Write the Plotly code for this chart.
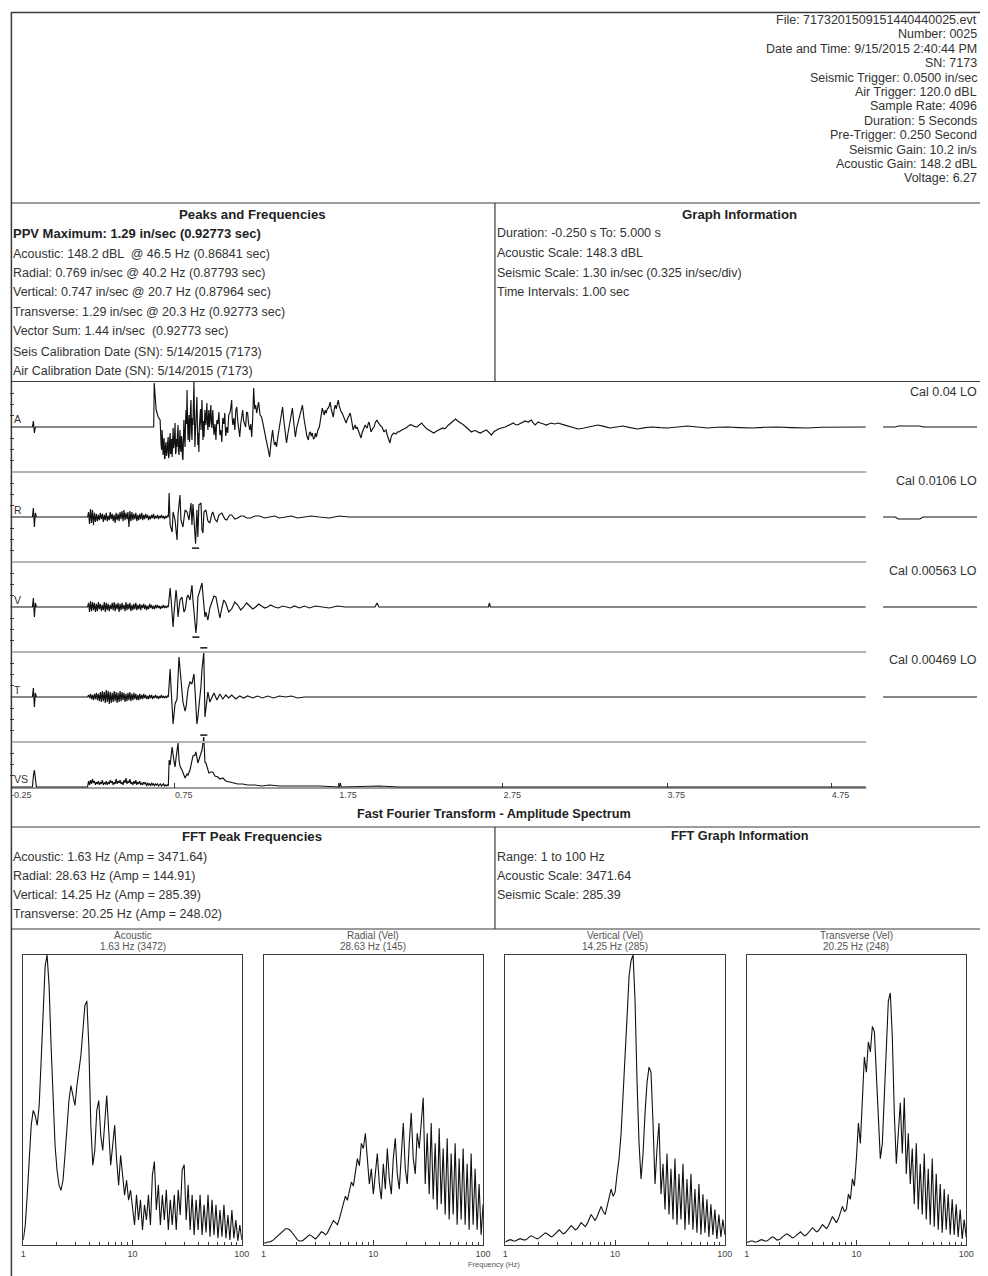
import plotly.graph_objects as go

W, H = 988, 1276
FONT = "Liberation Sans, Arial, sans-serif"
INK = "#222222"
LINE = "#3a3a3a"


def PX(x):
    return x / W


def PY(y):
    return 1 - y / H


# ---------------- text content ----------------
HEADER_LINES = [
    "File: 7173201509151440440025.evt",
    "Number: 0025",
    "Date and Time: 9/15/2015 2:40:44 PM",
    "SN: 7173",
    "Seismic Trigger: 0.0500 in/sec",
    "Air Trigger: 120.0 dBL",
    "Sample Rate: 4096",
    "Duration: 5 Seconds",
    "Pre-Trigger: 0.250 Second",
    "Seismic Gain: 10.2 in/s",
    "Acoustic Gain: 148.2 dBL",
    "Voltage: 6.27",
]
PEAKS_TITLE = "Peaks and Frequencies"
PPV_LINE = "PPV Maximum: 1.29 in/sec (0.92773 sec)"
PEAKS_LINES = [
    "Acoustic: 148.2 dBL  @ 46.5 Hz (0.86841 sec)",
    "Radial: 0.769 in/sec @ 40.2 Hz (0.87793 sec)",
    "Vertical: 0.747 in/sec @ 20.7 Hz (0.87964 sec)",
    "Transverse: 1.29 in/sec @ 20.3 Hz (0.92773 sec)",
    "Vector Sum: 1.44 in/sec  (0.92773 sec)",
    "Seis Calibration Date (SN): 5/14/2015 (7173)",
    "Air Calibration Date (SN): 5/14/2015 (7173)",
]
GRAPH_TITLE = "Graph Information"
GRAPH_LINES = [
    "Duration: -0.250 s To: 5.000 s",
    "Acoustic Scale: 148.3 dBL",
    "Seismic Scale: 1.30 in/sec (0.325 in/sec/div)",
    "Time Intervals: 1.00 sec",
]
CHANNEL_LABELS = ["A", "R", "V", "T", "VS"]
CAL_LABELS = ["Cal 0.04 LO", "Cal 0.0106 LO", "Cal 0.00563 LO", "Cal 0.00469 LO"]
TIME_TICKS = [-0.25, 0.75, 1.75, 2.75, 3.75, 4.75]
TIME_TICK_TEXT = ["-0.25", "0.75", "1.75", "2.75", "3.75", "4.75"]
FFT_SECTION_TITLE = "Fast Fourier Transform - Amplitude Spectrum"
FFT_PEAK_TITLE = "FFT Peak Frequencies"
FFT_PEAK_LINES = [
    "Acoustic: 1.63 Hz (Amp = 3471.64)",
    "Radial: 28.63 Hz (Amp = 144.91)",
    "Vertical: 14.25 Hz (Amp = 285.39)",
    "Transverse: 20.25 Hz (Amp = 248.02)",
]
FFT_INFO_TITLE = "FFT Graph Information"
FFT_INFO_LINES = ["Range: 1 to 100 Hz", "Acoustic Scale: 3471.64", "Seismic Scale: 285.39"]
FFT_PANEL_TITLES = ["Acoustic", "Radial (Vel)", "Vertical (Vel)", "Transverse (Vel)"]
FFT_PANEL_SUBS = ["1.63 Hz (3472)", "28.63 Hz (145)", "14.25 Hz (285)", "20.25 Hz (248)"]

# ---------------- scales ----------------
ACOUSTIC_SCALE_PSI = 0.0748     # 148.3 dBL
SEISMIC_SCALE = 1.30            # in/sec
FFT_ACOUSTIC_SCALE = 3471.64
FFT_SEISMIC_SCALE = 285.39
RECORD_END = 4.96

# ---------------- waveform data ----------------
# acoustic (time s, psi)
A_TRACE = [(-0.25, 0), (-0.116, 0), (-0.110, 0.010), (-0.104, -0.010), (-0.098, 0), (-0.089, 0),
    (0.623, 0), (0.626, 0.0730), (0.638, 0.0282), (0.650, 0.0166), (0.662, 0.0116), (0.668, -0.0299),
    (0.671, -0.0380), (0.674, -0.0050), (0.677, -0.0400), (0.680, -0.0465), (0.683, -0.0250),
    (0.686, -0.0183), (0.689, -0.0530), (0.692, -0.0515), (0.695, -0.0300), (0.698, -0.0249),
    (0.701, -0.0480), (0.705, -0.0415), (0.708, -0.0250), (0.711, -0.0166), (0.714, -0.0520),
    (0.717, -0.0465), (0.720, -0.0200), (0.723, -0.0100), (0.726, -0.0450), (0.729, -0.0382),
    (0.732, -0.0200), (0.735, -0.0498), (0.738, -0.0300), (0.741, -0.0017), (0.744, -0.0350),
    (0.747, -0.0299), (0.750, -0.0150), (0.753, 0.0066), (0.756, -0.0450), (0.759, -0.0415),
    (0.762, -0.0200), (0.765, -0.0332), (0.768, -0.0100), (0.771, 0.0033), (0.774, -0.0400),
    (0.777, -0.0465), (0.780, -0.0250), (0.783, -0.0050), (0.786, -0.0350), (0.789, -0.0415),
    (0.792, -0.0150), (0.795, -0.0216), (0.798, -0.0500), (0.801, -0.0548), (0.804, -0.0200),
    (0.807, 0.0116), (0.810, -0.0150), (0.814, -0.0332), (0.817, 0.0100), (0.820, 0.0282),
    (0.823, 0.0050), (0.826, 0.0614), (0.829, 0.0100), (0.832, -0.0216), (0.835, 0.0050),
    (0.838, 0.0199), (0.841, -0.0250), (0.844, -0.0100), (0.847, 0.0300), (0.850, 0.0448),
    (0.853, -0.0050), (0.856, -0.0216), (0.859, 0.0150), (0.862, 0.0033), (0.868, 0.0747),
    (0.871, 0.0100), (0.874, -0.0332), (0.877, -0.0100), (0.880, 0.0116), (0.883, 0.0300),
    (0.886, 0.0498), (0.889, 0.0050), (0.892, -0.0299), (0.895, -0.0100), (0.898, -0.0415),
    (0.901, 0.0000), (0.905, 0.0199), (0.908, 0.0300), (0.911, -0.0050), (0.914, 0.0200),
    (0.917, 0.0448), (0.920, 0.0050), (0.923, -0.0216), (0.926, 0.0100), (0.929, -0.0166),
    (0.932, 0.0050), (0.935, 0.0282), (0.938, 0.0100), (0.941, 0.0033), (0.944, 0.0250),
    (0.947, 0.0398), (0.950, 0.0100), (0.953, -0.0050), (0.956, 0.0150), (0.959, 0.0282),
    (0.962, 0.0000), (0.965, 0.0066), (0.968, 0.0250), (0.971, 0.0365), (0.974, 0.0100),
    (0.977, -0.0017), (0.980, 0.0150), (0.983, 0.0282), (0.986, 0.0050), (0.990, -0.0133),
    (0.996, 0.0050), (1.002, -0.0216), (1.005, 0.0000), (1.008, 0.0116), (1.014, 0.0050),
    (1.020, 0.0249), (1.023, 0.0050), (1.026, -0.0133), (1.032, -0.0050), (1.038, -0.0249),
    (1.041, 0.0000), (1.044, 0.0149), (1.050, 0.0050), (1.056, 0.0232), (1.059, 0.0000),
    (1.062, -0.0149), (1.068, 0.0000), (1.074, -0.0100), (1.077, 0.0050), (1.080, 0.0199),
    (1.089, 0.0250), (1.098, 0.0448), (1.101, 0.0150), (1.105, 0.0033), (1.111, 0.0150),
    (1.117, -0.0050), (1.123, 0.0282), (1.129, 0.0332), (1.135, 0.0100), (1.141, -0.0050),
    (1.147, -0.0166), (1.153, 0.0050), (1.159, 0.0199), (1.165, 0.0282), (1.171, 0.0100),
    (1.177, 0.0033), (1.183, 0.0), (1.189, 0.0249), (1.195, 0.0232), (1.201, 0.0050),
    (1.208, -0.0050), (1.214, 0.0050), (1.220, -0.0166), (1.226, 0.0150), (1.232, 0.0647),
    (1.238, 0.0300), (1.244, 0.0365), (1.250, 0.0232), (1.256, 0.0350), (1.262, 0.0415),
    (1.271, 0.0200), (1.280, 0.0166), (1.289, 0.0050), (1.298, -0.0100), (1.307, -0.0200),
    (1.317, -0.0332), (1.323, -0.0400), (1.329, -0.0498), (1.338, -0.0250), (1.347, -0.0050),
    (1.353, -0.0200), (1.359, -0.0299), (1.365, -0.0250), (1.371, -0.0332), (1.380, -0.0150),
    (1.389, 0.0), (1.398, 0.0200), (1.408, 0.0332), (1.414, 0.0150), (1.420, 0.0033),
    (1.426, -0.0100), (1.432, -0.0266), (1.441, -0.0100), (1.450, 0.0033), (1.459, 0.0200),
    (1.468, 0.0315), (1.477, 0.0050), (1.486, -0.0166), (1.495, 0.0000), (1.505, 0.0116),
    (1.517, 0.0250), (1.529, 0.0365), (1.538, 0.0150), (1.547, -0.0050), (1.556, -0.0150),
    (1.565, -0.0216), (1.571, -0.0100), (1.577, -0.0083), (1.583, -0.0150), (1.589, -0.0100),
    (1.596, -0.0200), (1.602, -0.0183), (1.608, -0.0100), (1.614, -0.0166), (1.623, -0.0050),
    (1.632, 0.0), (1.641, 0.0200), (1.650, 0.0315), (1.656, 0.0250), (1.662, 0.0199),
    (1.668, 0.0280), (1.674, 0.0232), (1.680, 0.0300), (1.686, 0.0315), (1.692, 0.0350),
    (1.698, 0.0415), (1.704, 0.0300), (1.710, 0.0250), (1.717, 0.0166), (1.723, 0.0300),
    (1.729, 0.0365), (1.735, 0.0300), (1.741, 0.0400), (1.747, 0.0448), (1.753, 0.0350),
    (1.759, 0.0282), (1.765, 0.0250), (1.771, 0.0232), (1.783, 0.0150), (1.795, 0.0066),
    (1.801, 0.0120), (1.807, 0.0149), (1.814, 0.0180), (1.820, 0.0232), (1.829, 0.0100),
    (1.838, -0.0050), (1.844, 0.0000), (1.850, 0.0033), (1.856, -0.0030), (1.862, 0.0),
    (1.868, -0.0050), (1.874, -0.0100), (1.880, -0.0150), (1.886, -0.0183), (1.892, -0.0100),
    (1.898, -0.0050), (1.904, 0.0000), (1.911, 0.0033), (1.917, 0.0000), (1.923, -0.0017),
    (1.929, 0.0050), (1.935, 0.0083), (1.941, 0.0000), (1.947, -0.0083), (1.956, -0.0030),
    (1.965, 0.0), (1.974, 0.0080), (1.983, 0.0116), (1.989, 0.0080), (1.995, 0.0050),
    (2.005, 0.0020), (2.014, 0.0), (2.020, -0.0050), (2.026, -0.0083), (2.032, -0.0060),
    (2.038, -0.0050), (2.044, -0.0120), (2.050, -0.0183), (2.056, -0.0220), (2.062, -0.0266),
    (2.068, -0.0180), (2.074, -0.0133), (2.086, -0.0100), (2.099, -0.0116), (2.108, -0.0080),
    (2.117, -0.0083), (2.129, -0.0060), (2.141, -0.0050), (2.150, -0.0030), (2.159, -0.0017),
    (2.168, 0.0000), (2.177, 0.0017), (2.186, 0.0040), (2.195, 0.0033), (2.210, 0.0010),
    (2.226, 0.0), (2.241, 0.0040), (2.256, 0.0066), (2.265, 0.0030), (2.274, 0.0),
    (2.286, -0.0030), (2.298, -0.0050), (2.314, -0.0080), (2.329, -0.0100), (2.344, -0.0070),
    (2.359, -0.0050), (2.371, -0.0030), (2.383, -0.0017), (2.392, -0.0030), (2.402, -0.0017),
    (2.417, 0.0030), (2.432, 0.0066), (2.447, 0.0100), (2.462, 0.0133), (2.474, 0.0100),
    (2.486, 0.0083), (2.498, 0.0060), (2.511, 0.0033), (2.523, 0.0000), (2.535, -0.0033),
    (2.547, -0.0060), (2.559, -0.0083), (2.575, -0.0060), (2.590, -0.0066), (2.602, -0.0090),
    (2.614, -0.0100), (2.632, -0.0070), (2.650, -0.0050), (2.665, -0.0090), (2.680, -0.0133),
    (2.695, -0.0080), (2.711, -0.0050), (2.726, -0.0030), (2.741, -0.0017), (2.753, -0.0010),
    (2.765, 0.0), (2.778, 0.0020), (2.790, 0.0033), (2.802, 0.0050), (2.814, 0.0066),
    (2.826, 0.0040), (2.838, 0.0033), (2.850, 0.0050), (2.862, 0.0066), (2.874, 0.0080),
    (2.886, 0.0100), (2.895, 0.0090), (2.905, 0.0083), (2.914, 0.0100), (2.923, 0.0116),
    (2.935, 0.0070), (2.947, 0.0033), (2.956, 0.0060), (2.965, 0.0083), (2.974, 0.0070),
    (2.983, 0.0066), (2.998, 0.0050), (3.014, 0.0033), (3.029, 0.0050), (3.044, 0.0066),
    (3.065, 0.0050), (3.086, 0.0066), (3.117, 0.0040), (3.147, 0.0017), (3.178, -0.0010),
    (3.208, -0.0033), (3.238, -0.0020), (3.268, 0.0), (3.299, 0.0020), (3.329, 0.0033),
    (3.365, 0.0010), (3.402, -0.0017), (3.441, 0.0000), (3.480, 0.0017), (3.526, -0.0010),
    (3.571, -0.0033), (3.617, -0.0010), (3.662, 0.0), (3.708, -0.0010), (3.753, -0.0017),
    (3.814, 0.0000), (3.874, 0.0017), (3.935, 0.0000), (3.995, -0.0017), (4.056, -0.0005),
    (4.117, 0.0), (4.192, -0.0010), (4.268, -0.0017), (4.344, -0.0005), (4.420, 0.0),
    (4.511, -0.0010), (4.602, -0.0017), (4.693, -0.0005), (4.784, 0.0), (RECORD_END, 0.0)]

# seismic channels (in/sec): quiet pre-trigger, noise burst sampled every NOISE_DT, then event
NOISE_START = 0.226
NOISE_DT = 0.006
QUIET_PRE = [(-0.25, 0), (-0.116, 0), (-0.110, 0.260), (-0.104, -0.289), (-0.098, 0.116),
             (-0.092, 0), (0.220, 0)]
VS_PRE = [(-0.25, 0), (-0.116, 0), (-0.110, 0.318), (-0.104, 0.491), (-0.098, 0.260),
          (-0.092, 0), (0.220, 0)]

R_NOISE = [0.14, -0.20, 0.23, -0.17, 0.20, -0.23, 0.12, -0.14, 0.09, -0.12,
    0.06, -0.09, 0.12, -0.06, 0.09, -0.14, 0.06, -0.09, 0.12, -0.12,
    0.03, -0.09, 0.14, -0.06, 0.09, -0.12, 0.06, -0.17, 0.12, -0.09,
    0.09, -0.12, 0.14, -0.06, 0.17, -0.12, 0.20, -0.09, 0.12, -0.06,
    0.14, -0.29, 0.17, -0.12, 0.14, -0.09, 0.09, -0.06, 0.12, -0.12,
    0.06, -0.09, 0.09, -0.06, 0.12, -0.09, 0.06, -0.06, 0.09, -0.03,
    0.06, -0.09, 0.03, -0.06, 0.06, -0.03, 0.09, -0.06, 0.03, -0.03,
    0.06, -0.06, 0.03, -0.03, 0.06, -0.03, 0.03, -0.06, 0.03, -0.03,
    0.03, 0.0]
V_NOISE = [0.12, -0.14, 0.17, -0.12, 0.14, -0.09, 0.12, -0.14, 0.09, -0.12,
    0.14, -0.06, 0.09, -0.12, 0.06, -0.09, 0.14, -0.14, 0.12, -0.09,
    0.09, -0.12, 0.06, -0.06, 0.12, -0.09, 0.14, -0.12, 0.09, -0.06,
    0.12, -0.14, 0.09, -0.09, 0.12, -0.06, 0.06, -0.12, 0.14, -0.09,
    0.09, -0.06, 0.12, -0.12, 0.06, -0.09, 0.09, -0.06, 0.12, -0.09,
    0.06, -0.06, 0.09, -0.09, 0.06, -0.03, 0.09, -0.06, 0.06, -0.09,
    0.03, -0.06, 0.09, -0.03, 0.06, -0.06, 0.03, -0.06, 0.06, -0.03,
    0.06, -0.03, 0.03, -0.06, 0.03, -0.03, 0.06, -0.03, 0.03, -0.03,
    0.03, 0.0]
T_NOISE = [0.06, -0.03, 0.09, -0.06, 0.06, -0.09, 0.09, -0.06, 0.12, -0.09,
    0.09, -0.12, 0.14, -0.14, 0.17, -0.12, 0.14, -0.17, 0.20, -0.14,
    0.17, -0.20, 0.14, -0.17, 0.12, -0.14, 0.17, -0.12, 0.14, -0.17,
    0.12, -0.14, 0.17, -0.12, 0.14, -0.09, 0.12, -0.14, 0.09, -0.12,
    0.12, -0.09, 0.14, -0.12, 0.09, -0.09, 0.12, -0.06, 0.09, -0.09,
    0.06, -0.09, 0.09, -0.06, 0.06, -0.06, 0.09, -0.03, 0.06, -0.06,
    0.03, -0.06, 0.06, -0.03, 0.06, -0.06, 0.03, -0.03, 0.06, -0.03,
    0.03, -0.06, 0.03, -0.03, 0.06, -0.03, 0.03, -0.03, 0.03, -0.03,
    0.03, 0.0]
VS_NOISE = [0.17, 0.06, 0.20, 0.09, 0.23, 0.12, 0.17, 0.06, 0.14, 0.09,
    0.17, 0.06, 0.14, 0.09, 0.20, 0.06, 0.12, 0.09, 0.17, 0.06,
    0.14, 0.09, 0.20, 0.12, 0.17, 0.06, 0.14, 0.09, 0.23, 0.09,
    0.17, 0.12, 0.20, 0.09, 0.14, 0.06, 0.20, 0.12, 0.26, 0.09,
    0.17, 0.12, 0.23, 0.09, 0.14, 0.06, 0.17, 0.09, 0.20, 0.06,
    0.14, 0.09, 0.17, 0.06, 0.12, 0.06, 0.14, 0.09, 0.12, 0.03,
    0.12, 0.06, 0.09, 0.03, 0.12, 0.06, 0.09, 0.03, 0.09, 0.06,
    0.09, 0.03, 0.06, 0.09, 0.03, 0.06, 0.09, 0.03, 0.06, 0.03,
    0.06, 0.03]

R_EVENT = [(0.717, 0.694), (0.723, -0.231), (0.735, -0.434),
    (0.741, 0.145), (0.753, -0.087), (0.765, -0.665), (0.771, 0.058), (0.783, 0.636), (0.789, -0.087),
    (0.801, -0.289), (0.814, 0.202), (0.826, 0.145), (0.838, -0.087), (0.850, 0.405), (0.856, -0.231),
    (0.862, 0.376), (0.878, -0.769), (0.886, 0.202), (0.892, -0.578), (0.898, 0.347), (0.911, 0.405),
    (0.917, -0.376), (0.923, -0.462), (0.929, 0.145), (0.941, 0.202), (0.953, -0.116), (0.965, -0.173),
    (0.977, 0.087), (0.983, 0.145), (0.996, -0.058), (1.008, -0.145), (1.020, 0.058), (1.038, 0.116),
    (1.056, -0.058), (1.068, -0.087), (1.086, 0.058), (1.098, 0.058), (1.117, -0.058), (1.135, -0.029),
    (1.153, 0.029), (1.171, 0.029), (1.189, -0.029), (1.214, -0.029), (1.238, 0.029), (1.268, 0.029),
    (1.298, -0.029), (1.329, 0), (1.359, 0.029), (1.389, -0.029), (1.426, 0), (1.462, 0.029),
    (1.499, -0.029), (1.541, 0), (1.583, 0.029), (1.632, 0), (1.693, -0.029), (1.753, 0.029),
    (1.814, 0), (1.886, 0), (RECORD_END, 0)]

V_EVENT = [(0.723, 0.549), (0.729, 0.202), (0.741, -0.578), (0.747, -0.145), (0.759, 0.491),
    (0.765, 0.202), (0.771, -0.289), (0.783, 0.202), (0.795, 0.289), (0.807, -0.145), (0.814, -0.087),
    (0.826, 0.289), (0.832, 0.347), (0.844, 0.202), (0.856, 0.636), (0.862, 0.202), (0.880, -0.747),
    (0.886, -0.434), (0.892, 0.289), (0.905, 0.491), (0.917, 0.694), (0.923, 0.347), (0.935, -0.289),
    (0.941, -0.145), (0.953, -0.376), (0.965, -0.029), (0.977, 0.116), (0.990, 0.318), (1.002, 0.289),
    (1.014, -0.029), (1.026, -0.318), (1.038, -0.029), (1.050, 0.202), (1.062, 0.116), (1.080, -0.145),
    (1.098, -0.058), (1.117, 0.145), (1.135, 0.058), (1.153, -0.087), (1.171, 0), (1.189, 0.116),
    (1.208, 0.029), (1.226, -0.058), (1.244, 0), (1.262, 0.087), (1.280, 0.029), (1.298, -0.029),
    (1.317, 0), (1.335, 0.058), (1.359, 0), (1.383, -0.029), (1.408, 0.029), (1.432, 0),
    (1.456, -0.029), (1.480, 0.029), (1.511, -0.029), (1.541, 0.029), (1.571, -0.029), (1.608, 0.029),
    (1.644, 0), (1.693, -0.029), (1.741, 0.029), (1.789, 0), (1.971, 0), (1.983, 0.116), (1.995, 0),
    (2.662, 0), (2.668, 0.116), (2.674, 0), (RECORD_END, 0)]

T_EVENT = [(0.723, 0.809), (0.729, 0.231), (0.741, -0.780), (0.753, -0.202), (0.765, -0.058),
    (0.777, 1.156), (0.789, 0.376), (0.801, -0.145), (0.814, -0.405), (0.820, -0.289), (0.832, 0.231),
    (0.844, 0.434), (0.856, 0.376), (0.868, 0.665), (0.874, 0.231), (0.886, -0.780), (0.892, -0.578),
    (0.905, -0.058), (0.911, 0.318), (0.917, 0.809), (0.928, 1.29), (0.935, -0.578), (0.941, -0.289),
    (0.953, 0.145), (0.965, -0.145), (0.977, 0), (0.990, 0.116), (1.008, -0.087), (1.026, 0.087),
    (1.044, -0.058), (1.062, 0.058), (1.080, -0.029), (1.098, 0.058), (1.123, -0.058), (1.147, 0.029),
    (1.171, -0.029), (1.195, 0.029), (1.226, -0.029), (1.256, 0.029), (1.286, -0.029), (1.317, 0.029),
    (1.353, -0.029), (1.389, 0.029), (1.426, 0), (1.462, 0.029), (1.499, -0.029), (1.541, 0),
    (RECORD_END, 0)]

VS_EVENT = [(0.717, 0.780), (0.723, 0.636), (0.735, 1.156), (0.747, 0.723), (0.753, 0.578),
    (0.759, 0.838), (0.771, 1.272), (0.777, 0.780), (0.783, 0.607), (0.795, 0.491), (0.807, 0.318),
    (0.814, 0.260), (0.826, 0.376), (0.832, 0.347), (0.844, 0.491), (0.856, 0.780), (0.862, 0.896),
    (0.874, 0.925), (0.880, 1.012), (0.892, 0.694), (0.905, 0.867), (0.917, 1.069), (0.928, 1.44),
    (0.935, 0.723), (0.941, 0.694), (0.953, 0.491), (0.959, 0.405), (0.971, 0.434), (0.983, 0.434),
    (0.996, 0.318), (1.014, 0.289), (1.026, 0.231), (1.044, 0.260), (1.062, 0.173), (1.086, 0.145),
    (1.111, 0.116), (1.135, 0.087), (1.165, 0.087), (1.195, 0.058), (1.238, 0.058), (1.280, 0.029),
    (1.329, 0.058), (1.389, 0.029), (1.450, 0.029), (1.511, 0.029), (1.632, 0.029), (1.753, 0),
    (1.759, 0.116), (1.765, 0), (1.995, 0.029), (2.117, 0), (RECORD_END, 0)]

# small dash marks printed next to the channel peaks (time s, value)
PEAK_MARKS_R = [(0.878, -0.90)]
PEAK_MARKS_V = [(0.880, -0.87)]
PEAK_MARKS_T = [(0.928, 1.42)]
PEAK_MARKS_VS = [(0.928, 1.50)]

# calibration pulses drawn to the right of the record
CAL_T = [5.066, 5.140, 5.160, 5.290, 5.310, 5.639]
CAL_A = [0, 0, 0.0017, 0.0017, 0, 0]
CAL_R = [0, 0, -0.058, -0.058, 0, 0]
CAL_V = [0, 0, 0, 0, 0, 0]
CAL_T_CH = [0, 0, 0, 0, 0, 0]

# ---------------- FFT data ----------------
FREQ_HZ = [1.000, 1.043, 1.087, 1.134, 1.182, 1.233, 1.286, 1.341, 1.398, 1.458,
    1.520, 1.585, 1.652, 1.723, 1.797, 1.874, 1.954, 2.037, 2.124, 2.215,
    2.310, 2.409, 2.512, 2.619, 2.731, 2.848, 2.970, 3.097, 3.229, 3.367,
    3.511, 3.661, 3.818, 3.981, 4.151, 4.329, 4.514, 4.707, 4.908, 5.118,
    5.337, 5.565, 5.803, 6.052, 6.310, 6.580, 6.862, 7.155, 7.461, 7.780,
    8.111, 8.458, 8.820, 9.197, 9.590, 10.00, 10.43, 10.87, 11.34, 11.82,
    12.33, 12.86, 13.41, 13.98, 14.58, 15.20, 15.85, 16.52, 17.23, 17.97,
    18.74, 19.54, 20.37, 21.24, 22.15, 23.10, 24.09, 25.12, 26.19, 27.31,
    28.48, 29.70, 30.97, 32.29, 33.67, 35.11, 36.61, 38.18, 39.81, 41.51,
    43.29, 45.14, 47.07, 49.08, 51.18, 53.37, 55.65, 58.03, 60.52, 63.10,
    65.80, 68.62, 71.55, 74.61, 77.80, 81.11, 84.58, 88.20, 91.97, 95.90, 100.0]

ACOUSTIC_AMP = [60, 239, 597, 1074, 1432, 1611, 1551, 1432, 1670, 2207,
    2863, 3340, 3471.64, 3102, 2386, 1670, 1193, 895, 716, 656,
    775, 1074, 1432, 1730, 1909, 1790, 1670, 1909, 2088, 2267,
    2565, 2863, 2923, 2386, 1432, 954, 1133, 1611, 1730, 1312,
    1133, 1491, 1790, 1372, 954, 1193, 1432, 1014, 716, 1074,
    835, 597, 775, 537, 656, 480, 240, 600, 300, 540,
    180, 480, 300, 600, 240, 840, 1000, 420, 720, 240,
    600, 300, 660, 180, 540, 240, 600, 180, 660, 360,
    900, 960, 300, 720, 180, 600, 120, 540, 180, 600,
    120, 480, 150, 600, 100, 540, 120, 480, 80, 420,
    100, 480, 80, 360, 60, 420, 80, 300, 50, 240, 60]

RADIAL_AMP = [2, 2, 3, 3, 4, 5, 7, 9, 11, 13,
    15, 16, 16, 15, 13, 10, 7, 5, 4, 4,
    5, 7, 9, 10, 9, 7, 6, 8, 11, 13,
    12, 10, 12, 16, 20, 24, 22, 20, 26, 34,
    40, 48, 44, 52, 62, 58, 70, 85, 78, 100,
    95, 110, 85, 60, 75, 50, 70, 90, 60, 45,
    80, 55, 95, 65, 50, 85, 105, 70, 55, 90,
    120, 75, 60, 100, 130, 85, 70, 110, 95, 120,
    144.91, 60, 110, 50, 120, 45, 100, 35, 115, 40,
    95, 30, 105, 25, 90, 30, 100, 20, 85, 25,
    95, 20, 80, 15, 90, 20, 75, 15, 60, 10, 40]

VERTICAL_AMP = [3, 4, 5, 5, 4, 4, 5, 6, 6, 5,
    5, 6, 8, 9, 8, 7, 6, 7, 9, 11,
    12, 11, 9, 8, 9, 11, 14, 15, 13, 11,
    12, 14, 17, 19, 17, 15, 16, 19, 22, 20,
    18, 21, 26, 30, 27, 24, 28, 34, 38, 33,
    30, 38, 48, 55, 48, 52, 70, 85, 110, 145,
    180, 225, 265, 280, 285.39, 240, 160, 100, 65, 90,
    130, 160, 175, 170, 120, 60, 95, 120, 50, 80,
    35, 90, 30, 75, 25, 85, 20, 70, 25, 80,
    15, 65, 20, 70, 15, 55, 12, 60, 10, 50,
    12, 45, 8, 40, 10, 35, 6, 30, 8, 25, 10]

TRANSVERSE_AMP = [3, 3, 4, 4, 3, 3, 4, 5, 5, 4,
    4, 5, 7, 8, 7, 5, 5, 6, 8, 10,
    11, 10, 8, 7, 8, 10, 12, 13, 11, 9,
    10, 12, 15, 17, 15, 13, 14, 17, 20, 18,
    16, 19, 24, 28, 25, 22, 26, 32, 38, 33,
    35, 50, 45, 65, 58, 85, 120, 100, 150, 185,
    170, 200, 190, 215, 210, 170, 120, 85, 100, 145,
    200, 240, 248.02, 205, 130, 80, 110, 140, 90, 145,
    70, 110, 60, 95, 40, 100, 35, 80, 30, 90,
    25, 75, 20, 85, 18, 70, 15, 60, 12, 55,
    15, 50, 10, 45, 10, 40, 8, 35, 6, 25, 8]

FFT_MINOR_TICKS = [2, 3, 4, 5, 6, 7, 8, 9, 20, 30, 40, 50, 60, 70, 80, 90]

# ---------------- figure ----------------
fig = go.Figure()
annotations = []
shapes = []
BODY = 12.5
TITLE = 13.2


def txt(x, y, s, size=BODY, anchor="left", bold=False, color=INK):
    annotations.append(dict(
        x=PX(x), y=PY(y), xref="paper", yref="paper",
        text=("<b>%s</b>" % s) if bold else s, showarrow=False,
        xanchor=anchor, yanchor="middle", borderpad=0,
        font=dict(size=size, color=color, family=FONT)))


def hline(y, x0, x1, color=LINE, width=1.2):
    shapes.append(dict(type="line", xref="paper", yref="paper",
                       x0=PX(x0), x1=PX(x1), y0=PY(y), y1=PY(y),
                       line=dict(color=color, width=width)))


def vline(x, y0, y1, color=LINE, width=1.2):
    shapes.append(dict(type="line", xref="paper", yref="paper",
                       x0=PX(x), x1=PX(x), y0=PY(y0), y1=PY(y1),
                       line=dict(color=color, width=width)))


# frame
hline(12.5, 8, 988, width=1.5)
vline(8.5, 12, 1276, width=1.5)
hline(203, 8, 988)
hline(381.5, 8, 988)
vline(497.5, 203, 381.5)
hline(827, 8, 988)
hline(929, 8, 988)
vline(497.5, 827, 929)

# header
HEADER_Y = [20, 34, 49, 63, 78, 92, 106, 121, 135, 150, 164, 178]
for s, y in zip(HEADER_LINES, HEADER_Y):
    txt(986, y, s, anchor="right", color="#333")

# peaks box
txt(252, 214, PEAKS_TITLE, size=TITLE, anchor="center", bold=True)
txt(9, 233, PPV_LINE, size=13, bold=True)
PEAKS_Y = [254, 273, 292, 312, 331, 352, 371]
for s, y in zip(PEAKS_LINES, PEAKS_Y):
    txt(9, y, s, color="#333")

txt(745, 214, GRAPH_TITLE, size=TITLE, anchor="center", bold=True)
GRAPH_Y = [233, 253, 273, 292]
for s, y in zip(GRAPH_LINES, GRAPH_Y):
    txt(499, y, s, color="#333")

# ---------------- waveform panel ----------------
SEPARATORS = [472, 562, 652, 742]
for y in SEPARATORS:
    hline(y, 9, 873, color="#b4b4b4", width=2)
hline(788, 9, 873, color=LINE, width=1.2)

PX_PER_SEC = 166.0
x_left_px, x_right_px = 7.5, 985.0
t_min = -0.25
t_max = t_min + (x_right_px - x_left_px) / PX_PER_SEC
PX_PER_UNIT = 45.0 / SEISMIC_SCALE       # seismic channels: 45 px per 1.30 in/sec


def seismic_series(pre, noise, event):
    t = [p[0] for p in pre] + [NOISE_START + i * NOISE_DT for i in range(len(noise))] \
        + [p[0] for p in event]
    v = [p[1] for p in pre] + list(noise) + [p[1] for p in event]
    return t, v


series = [([p[0] for p in A_TRACE], [p[1] for p in A_TRACE]),
          seismic_series(QUIET_PRE, R_NOISE, R_EVENT),
          seismic_series(QUIET_PRE, V_NOISE, V_EVENT),
          seismic_series(QUIET_PRE, T_NOISE, T_EVENT),
          seismic_series(VS_PRE, VS_NOISE, VS_EVENT)]
yaxes_names = ["y", "y2", "y3", "y4", "y5"]
for (tt, vv), yn in zip(series, yaxes_names):
    fig.add_trace(go.Scatter(x=tt, y=vv, xaxis="x", yaxis=yn, mode="lines",
                             line=dict(color="#111111", width=1.15),
                             hoverinfo="skip", showlegend=False))
for cal, yn in zip([CAL_A, CAL_R, CAL_V, CAL_T_CH], yaxes_names[:4]):
    fig.add_trace(go.Scatter(x=CAL_T, y=cal, xaxis="x", yaxis=yn, mode="lines",
                             line=dict(color="#111111", width=1.1), hoverinfo="skip",
                             showlegend=False))
for marks, yn in zip([PEAK_MARKS_R, PEAK_MARKS_V, PEAK_MARKS_T, PEAK_MARKS_VS],
                     ["y2", "y3", "y4", "y5"]):
    fig.add_trace(go.Scatter(x=[m[0] for m in marks], y=[m[1] for m in marks], xaxis="x",
                             yaxis=yn, mode="markers", cliponaxis=False,
                             marker=dict(symbol="line-ew", size=5,
                                         line=dict(color="#111111", width=1.5)),
                             hoverinfo="skip", showlegend=False))

layout_axes = {}
layout_axes["xaxis"] = dict(domain=[PX(x_left_px), PX(x_right_px)], range=[t_min, t_max],
                            anchor="y5", showgrid=False, zeroline=False, showline=False,
                            ticks="inside", ticklen=5, tickcolor=LINE, tickvals=TIME_TICKS,
                            ticktext=TIME_TICK_TEXT, ticklabelposition="outside right",
                            tickfont=dict(size=9, color="#444", family=FONT))

a_div = ACOUSTIC_SCALE_PSI / 4
s_div = SEISMIC_SCALE / 4
common_y = dict(anchor="x", showgrid=False, zeroline=False, showline=False, ticks="inside",
                ticklen=4, tickcolor=LINE, showticklabels=False)
s_ticks = [-3 * s_div, -2 * s_div, -s_div, s_div, 2 * s_div, 3 * s_div]
layout_axes["yaxis"] = dict(domain=[PY(472), PY(382)],
                            range=[-ACOUSTIC_SCALE_PSI, ACOUSTIC_SCALE_PSI],
                            tickvals=[-3 * a_div, -2 * a_div, -a_div, a_div, 2 * a_div, 3 * a_div],
                            **common_y)
layout_axes["yaxis2"] = dict(domain=[PY(562), PY(472)], range=[-SEISMIC_SCALE, SEISMIC_SCALE],
                             tickvals=s_ticks, **common_y)
layout_axes["yaxis3"] = dict(domain=[PY(652), PY(562)], range=[-SEISMIC_SCALE, SEISMIC_SCALE],
                             tickvals=s_ticks, **common_y)
# transverse channel: 6 px of head-room above the trace band for the peak mark
layout_axes["yaxis4"] = dict(domain=[PY(742), PY(646)],
                             range=[-SEISMIC_SCALE, SEISMIC_SCALE + 6 / PX_PER_UNIT],
                             tickvals=s_ticks, **common_y)
layout_axes["yaxis5"] = dict(domain=[PY(788), PY(733)],
                             range=[-1 / PX_PER_UNIT, 54 / PX_PER_UNIT],
                             tickvals=[s_div, 2 * s_div, 3 * s_div], **common_y)

LABEL_Y = [419, 510, 600, 690, 779]
for lab, y in zip(CHANNEL_LABELS, LABEL_Y):
    txt(10, y, lab, size=10.5, color="#333")
CAL_Y = [392, 481, 571, 660]
for lab, y in zip(CAL_LABELS, CAL_Y):
    txt(986, y, lab, anchor="right", color="#333")

# ---------------- FFT ----------------
txt(497, 814, FFT_SECTION_TITLE, size=12.7, anchor="center", bold=True)
txt(252, 836, FFT_PEAK_TITLE, size=TITLE, anchor="center", bold=True)
txt(745, 836, FFT_INFO_TITLE, size=12.7, anchor="center", bold=True)
FFT_TEXT_Y = [857, 876, 895, 914]
for s, y in zip(FFT_PEAK_LINES, FFT_TEXT_Y):
    txt(9, y, s, color="#333")
for s, y in zip(FFT_INFO_LINES, FFT_TEXT_Y):
    txt(499, y, s, color="#333")

PANELS = [(20.5, 241.5), (263.5, 485.5), (508, 730), (752, 974)]
FFT_SERIES = [ACOUSTIC_AMP, RADIAL_AMP, VERTICAL_AMP, TRANSVERSE_AMP]
FFT_SCALES = [FFT_ACOUSTIC_SCALE, FFT_SEISMIC_SCALE, FFT_SEISMIC_SCALE, FFT_SEISMIC_SCALE]
for k, ((x0, x1), amp, scale) in enumerate(zip(PANELS, FFT_SERIES, FFT_SCALES)):
    n = k + 6
    fig.add_trace(go.Scatter(x=FREQ_HZ, y=amp, xaxis="x%d" % n, yaxis="y%d" % n, mode="lines",
                             line=dict(color="#111111", width=1.1), hoverinfo="skip",
                             showlegend=False))
    layout_axes["xaxis%d" % n] = dict(
        type="log", range=[0, 2], domain=[PX(x0), PX(x1)], anchor="y%d" % n,
        showgrid=False, zeroline=False, showline=True, mirror=True, linecolor=LINE,
        linewidth=1.2, ticks="inside", ticklen=5, tickcolor=LINE, tickvals=[1, 10, 100],
        ticktext=["1", "10", "100"], tickfont=dict(size=9, color="#444", family=FONT),
        minor=dict(tickvals=FFT_MINOR_TICKS, ticks="inside", ticklen=3, tickcolor=LINE))
    layout_axes["yaxis%d" % n] = dict(
        range=[0, scale], domain=[PY(1245), PY(955)], anchor="x%d" % n, showgrid=False,
        zeroline=False, showline=True, mirror=True, linecolor=LINE, linewidth=1.2,
        showticklabels=False, ticks="")
    cx = (x0 + x1) / 2
    txt(cx, 935, FFT_PANEL_TITLES[k], size=10, anchor="center", color="#555")
    txt(cx, 946, FFT_PANEL_SUBS[k], size=10, anchor="center", color="#555")

txt(497, 1264, "Frequency (Hz)", size=7.5, anchor="center", color="#555")

fig.update_layout(width=W, height=H, autosize=False, margin=dict(l=0, r=0, t=0, b=0),
                  paper_bgcolor="white", plot_bgcolor="rgba(0,0,0,0)",
                  annotations=annotations, shapes=shapes, showlegend=False,
                  font=dict(family=FONT), **layout_axes)

POST = ("document.documentElement.style.overflow='hidden';"
        "document.body.style.margin='0px';"
        "document.body.style.padding='0px';"
        "document.body.style.overflow='hidden';")

fig.write_html("out.html", config={"displayModeBar": False, "responsive": False},
               post_script=POST)
